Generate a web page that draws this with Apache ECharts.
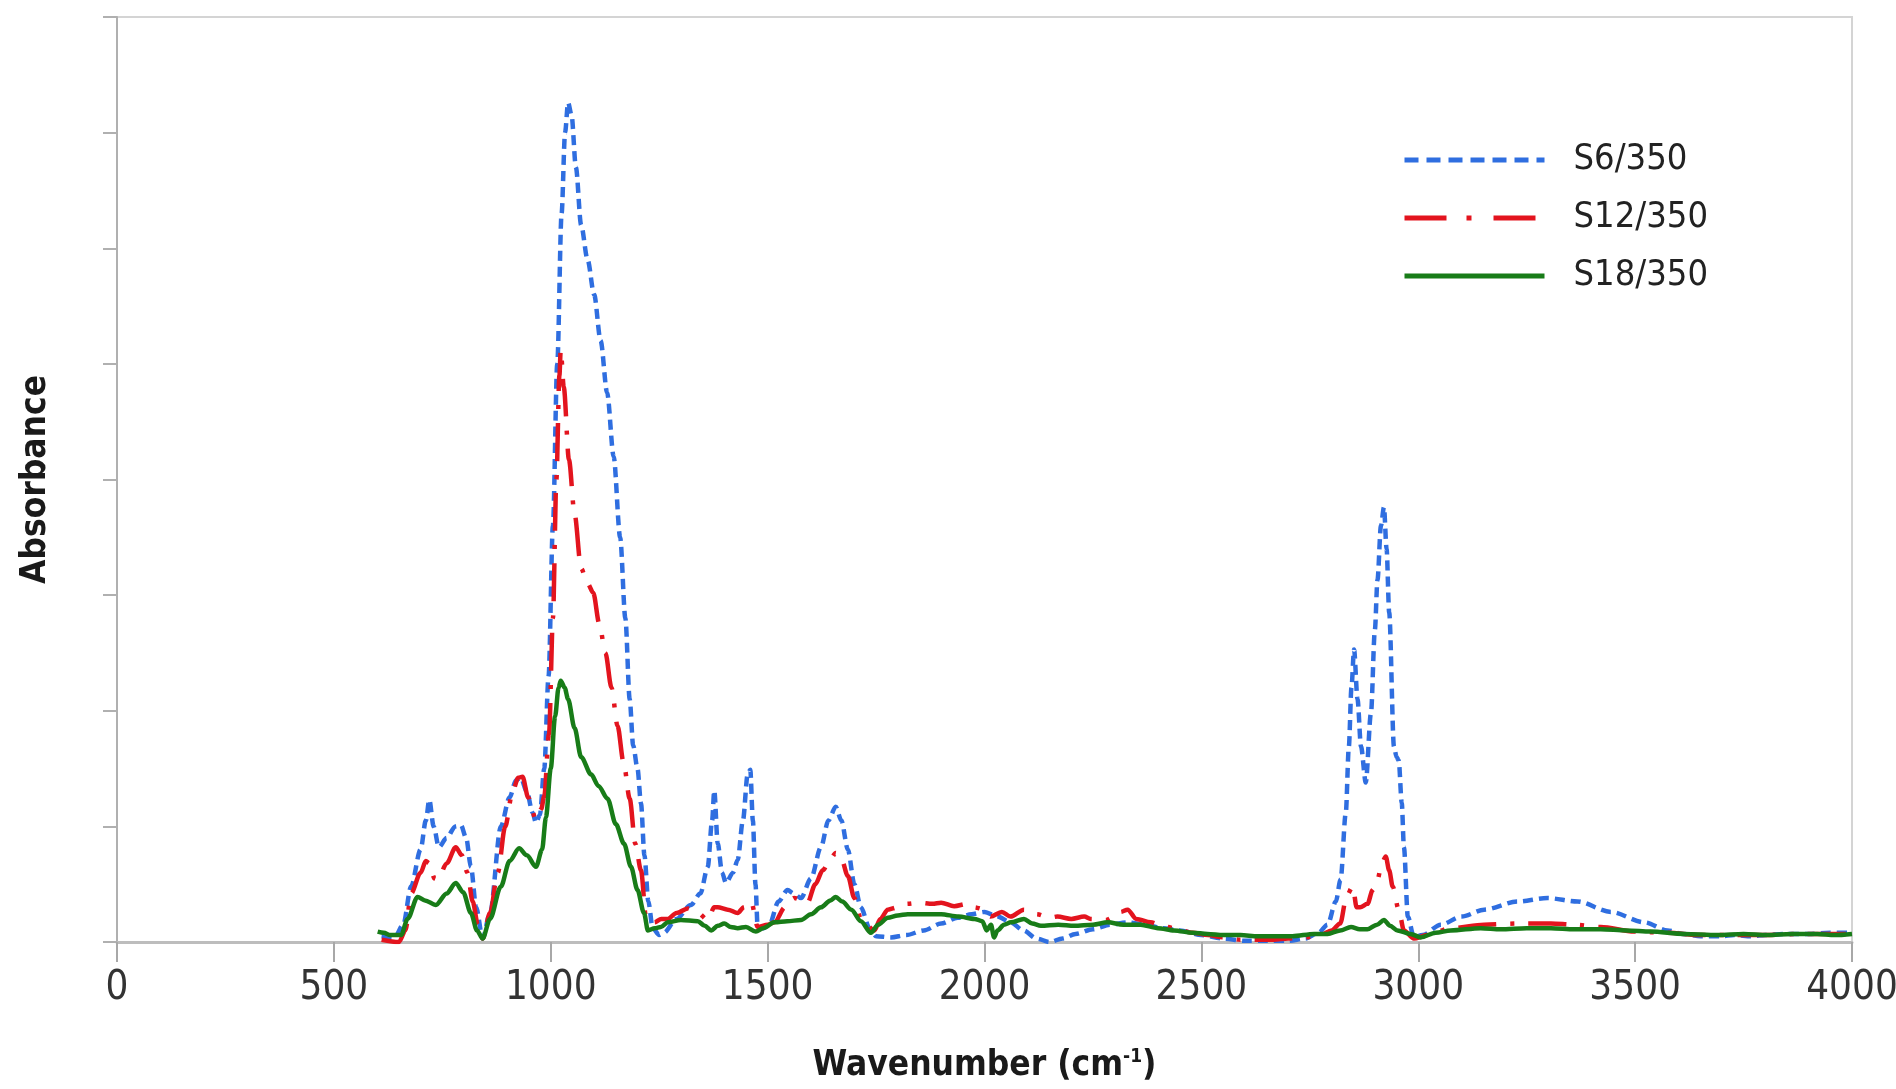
<!DOCTYPE html>
<html>
<head>
<meta charset="utf-8">
<title>FTIR spectra</title>
<script src="https://cdn.jsdelivr.net/npm/echarts@6/dist/echarts.min.js"></script>
<style>
  html, body { margin: 0; padding: 0; background: #ffffff; }
  #chart { width: 1896px; height: 1089px; }
</style>
</head>
<body>
<div id="chart"></div>
<script>
// FTIR absorbance spectra of three samples (arbitrary absorbance units)

const seriesNames = ['S6/350', 'S12/350', 'S18/350'];

// S6/350
const s6Wn = [610, 640, 660, 678, 700, 712, 720, 730, 742, 760, 780, 793, 805, 816, 828, 843, 860, 885, 905, 920, 931, 945, 958, 966, 975, 985, 995, 1005, 1015, 1025, 1033, 1040, 1048, 1058, 1070, 1085, 1100, 1115, 1130, 1145, 1160, 1172, 1182, 1190, 1200, 1208, 1216, 1225, 1235, 1250, 1261, 1290, 1323, 1345, 1362, 1372, 1377, 1385, 1395, 1404, 1420, 1431, 1443, 1454, 1460, 1466, 1472, 1477, 1490, 1504, 1525, 1546, 1560, 1577, 1600, 1623, 1640, 1657, 1670, 1685, 1700, 1715, 1735, 1750, 1784, 1820, 1860, 1900, 1938, 1970, 2000, 2030, 2060, 2090, 2120, 2150, 2180, 2210, 2250, 2290, 2330, 2370, 2410, 2450, 2500, 2550, 2600, 2650, 2700, 2740, 2770, 2791, 2810, 2821, 2833, 2840, 2846, 2852, 2860, 2868, 2879, 2891, 2900, 2906, 2914, 2921, 2927, 2933, 2944, 2950, 2955, 2962, 2967, 2976, 2990, 3010, 3052, 3100, 3152, 3229, 3298, 3367, 3444, 3521, 3575, 3610, 3651, 3700, 3728, 3770, 3800, 3843, 3900, 3950, 4000];
const s6Abs = [0.05, 0.04, 0.15, 0.48, 0.8, 1.05, 1.23, 1.0, 0.82, 0.9, 1.0, 1.01, 0.9, 0.65, 0.3, 0.03, 0.25, 1.0, 1.25, 1.4, 1.42, 1.3, 1.12, 1.03, 1.1, 1.5, 2.3, 3.6, 5.0, 6.3, 7.0, 7.26, 7.15, 6.7, 6.2, 5.9, 5.6, 5.2, 4.75, 4.2, 3.5, 2.8, 2.1, 1.7, 1.5, 1.2, 0.75, 0.35, 0.12, 0.06, 0.08, 0.2, 0.32, 0.42, 0.65, 1.05, 1.31, 0.85, 0.6, 0.51, 0.6, 0.71, 1.05, 1.45, 1.49, 1.05, 0.5, 0.13, 0.12, 0.15, 0.35, 0.45, 0.42, 0.38, 0.55, 0.82, 1.05, 1.17, 1.05, 0.8, 0.5, 0.3, 0.12, 0.05, 0.04, 0.06, 0.1, 0.16, 0.21, 0.24, 0.26, 0.22, 0.17, 0.1, 0.03, 0.0, 0.03, 0.07, 0.11, 0.15, 0.17, 0.15, 0.12, 0.1, 0.06, 0.03, 0.01, 0.01, 0.01, 0.03, 0.08, 0.15, 0.35, 0.54, 1.12, 1.69, 2.2, 2.53, 2.1, 1.69, 1.38, 1.98, 2.7, 3.13, 3.6, 3.76, 3.4, 2.85, 1.69, 1.6, 1.57, 1.2, 0.82, 0.22, 0.04, 0.06, 0.15, 0.22, 0.28, 0.35, 0.38, 0.35, 0.26, 0.17, 0.1, 0.07, 0.05, 0.05, 0.06, 0.05, 0.06, 0.07, 0.07, 0.08, 0.08];

// S12/350
const s12Wn = [610, 650, 665, 678, 700, 712, 720, 732, 740, 760, 781, 795, 808, 820, 832, 843, 860, 878, 895, 912, 925, 935, 948, 966, 978, 985, 996, 1005, 1013, 1020, 1023, 1030, 1042, 1055, 1070, 1085, 1098, 1112, 1126, 1140, 1154, 1168, 1182, 1195, 1208, 1220, 1239, 1255, 1270, 1290, 1316, 1340, 1362, 1377, 1385, 1408, 1431, 1445, 1462, 1477, 1500, 1516, 1540, 1561, 1592, 1610, 1627, 1645, 1657, 1670, 1685, 1700, 1715, 1746, 1760, 1777, 1800, 1823, 1850, 1880, 1900, 1930, 1960, 1977, 2000, 2014, 2040, 2060, 2091, 2120, 2150, 2168, 2200, 2230, 2245, 2280, 2300, 2314, 2330, 2350, 2383, 2410, 2437, 2480, 2515, 2550, 2590, 2630, 2667, 2700, 2740, 2775, 2800, 2820, 2835, 2849, 2858, 2866, 2883, 2895, 2906, 2916, 2925, 2933, 2941, 2955, 2967, 2990, 3020, 3075, 3152, 3230, 3306, 3360, 3421, 3498, 3575, 3650, 3728, 3800, 3880, 3950, 4000];
const s12Abs = [0.02, 0.0, 0.1, 0.42, 0.6, 0.7, 0.68, 0.55, 0.54, 0.68, 0.82, 0.75, 0.6, 0.35, 0.15, 0.03, 0.25, 0.6, 1.0, 1.3, 1.42, 1.43, 1.25, 1.06, 1.15, 1.26, 1.8, 2.8, 4.0, 4.9, 5.12, 4.8, 4.17, 3.7, 3.23, 3.1, 3.02, 2.75, 2.5, 2.2, 1.87, 1.55, 1.24, 0.85, 0.62, 0.2, 0.17, 0.2, 0.2, 0.25, 0.29, 0.25, 0.19, 0.3, 0.3, 0.28, 0.25, 0.3, 0.35, 0.13, 0.15, 0.17, 0.3, 0.38, 0.34, 0.5, 0.62, 0.72, 0.77, 0.72, 0.57, 0.38, 0.2, 0.1, 0.2, 0.28, 0.3, 0.33, 0.34, 0.33, 0.34, 0.31, 0.33, 0.3, 0.28, 0.22, 0.26, 0.22, 0.28, 0.24, 0.21, 0.22, 0.2, 0.22, 0.2, 0.19, 0.22, 0.26, 0.28, 0.2, 0.17, 0.14, 0.12, 0.08, 0.06, 0.04, 0.02, 0.02, 0.02, 0.03, 0.04, 0.06, 0.1, 0.16, 0.4, 0.48, 0.3, 0.3, 0.33, 0.45, 0.54, 0.68, 0.74, 0.62, 0.48, 0.28, 0.1, 0.03, 0.06, 0.12, 0.15, 0.16, 0.16, 0.15, 0.13, 0.09, 0.08, 0.06, 0.06, 0.06, 0.07, 0.07, 0.07];

// S18/350
const s18Wn = [601, 615, 630, 655, 670, 693, 710, 735, 760, 781, 798, 816, 830, 843, 860, 885, 905, 927, 945, 966, 980, 989, 1000, 1010, 1018, 1023, 1032, 1040, 1055, 1070, 1093, 1110, 1131, 1150, 1169, 1185, 1200, 1215, 1224, 1240, 1254, 1270, 1300, 1339, 1355, 1370, 1385, 1400, 1415, 1431, 1450, 1473, 1490, 1516, 1545, 1577, 1600, 1623, 1645, 1657, 1672, 1693, 1715, 1738, 1755, 1777, 1800, 1823, 1860, 1900, 1940, 1977, 1995, 2005, 2015, 2022, 2030, 2045, 2061, 2091, 2110, 2130, 2170, 2207, 2250, 2284, 2320, 2360, 2400, 2437, 2480, 2514, 2550, 2590, 2630, 2667, 2710, 2760, 2791, 2820, 2845, 2865, 2883, 2905, 2921, 2935, 2952, 2982, 3006, 3040, 3075, 3144, 3190, 3250, 3306, 3360, 3421, 3480, 3536, 3613, 3690, 3750, 3805, 3860, 3920, 3960, 4000];
const s18Abs = [0.09, 0.08, 0.06, 0.06, 0.2, 0.39, 0.36, 0.32, 0.42, 0.51, 0.43, 0.25, 0.1, 0.03, 0.2, 0.48, 0.7, 0.81, 0.75, 0.65, 0.8, 1.08, 1.5, 1.95, 2.2, 2.26, 2.2, 2.1, 1.85, 1.6, 1.45, 1.35, 1.24, 1.02, 0.85, 0.65, 0.45, 0.25, 0.1, 0.12, 0.13, 0.17, 0.19, 0.18, 0.14, 0.1, 0.14, 0.16, 0.13, 0.12, 0.13, 0.09, 0.12, 0.17, 0.18, 0.19, 0.24, 0.3, 0.36, 0.39, 0.35, 0.28, 0.18, 0.08, 0.15, 0.21, 0.23, 0.24, 0.24, 0.24, 0.22, 0.2, 0.18, 0.1, 0.15, 0.04, 0.1, 0.15, 0.17, 0.2, 0.16, 0.14, 0.15, 0.14, 0.15, 0.17, 0.15, 0.15, 0.12, 0.1, 0.08, 0.07, 0.06, 0.06, 0.05, 0.05, 0.05, 0.07, 0.07, 0.1, 0.13, 0.11, 0.11, 0.15, 0.19, 0.14, 0.1, 0.07, 0.04, 0.08, 0.1, 0.12, 0.11, 0.12, 0.12, 0.11, 0.11, 0.1, 0.09, 0.07, 0.06, 0.07, 0.06, 0.07, 0.07, 0.06, 0.07];

const zip = (xs, ys) => xs.map((x, i) => [x, ys[i]]);

const narrowFont = "'Liberation Sans Narrow', 'Arial Narrow', 'DejaVu Sans Condensed', 'Liberation Sans', Arial, sans-serif";
const axisGray = '#bdbdbd';

const colors = { s6: '#2f6ee0', s12: '#e3141e', s18: '#187c18' };

const chart = echarts.init(document.getElementById('chart'), null, { renderer: 'canvas' });

chart.setOption({
  animation: false,
  backgroundColor: '#ffffff',
  grid: {
    left: 117, right: 44, top: 17, bottom: 147,
    containLabel: false,
    outerBoundsMode: 'none',
    show: true,
    borderColor: '#d4d4d4',
    borderWidth: 2
  },
  legend: {
    orient: 'vertical',
    left: 1397,
    top: 130,
    itemWidth: 140,
    itemHeight: 20,
    itemGap: 8,
    selectedMode: false,
    itemStyle: { opacity: 0 },
    data: [
      { name: seriesNames[0], lineStyle: { width: 5, type: [14, 8] } },
      { name: seriesNames[1], lineStyle: { width: 5, type: [42, 20, 5, 22] } },
      { name: seriesNames[2], lineStyle: { width: 5 } }
    ],
    textStyle: {
      fontFamily: narrowFont,
      fontSize: 36,
      lineHeight: 50,
      color: '#222222',
      padding: [0, 0, 0, 24]
    }
  },
  xAxis: {
    type: 'value',
    min: 0,
    max: 4000,
    interval: 500,
    name: 'Wavenumber (cm{sup|-1})',
    nameLocation: 'middle',
    nameGap: 106,
    nameTextStyle: {
      fontFamily: narrowFont,
      fontSize: 35,
      fontWeight: 'bold',
      color: '#1a1a1a',
      rich: {
        sup: {
          fontFamily: narrowFont,
          fontSize: 19,
          fontWeight: 'bold',
          color: '#1a1a1a',
          verticalAlign: 'top',
          lineHeight: 19
        }
      }
    },
    axisLine: { show: true, onZero: false, lineStyle: { color: axisGray, width: 3 } },
    axisTick: { show: true, length: 20, lineStyle: { color: '#a8a8a8', width: 2 } },
    axisLabel: {
      margin: 27,
      fontFamily: narrowFont,
      fontSize: 40,
      color: '#333333',
      formatter: (v) => String(v)
    },
    splitLine: { show: false }
  },
  yAxis: {
    type: 'value',
    min: 0,
    max: 8,
    interval: 1,
    name: 'Absorbance',
    nameLocation: 'middle',
    nameRotate: 90,
    nameGap: 64,
    nameTextStyle: {
      fontFamily: narrowFont,
      fontSize: 35,
      fontWeight: 'bold',
      color: '#1a1a1a'
    },
    axisLine: { show: true, lineStyle: { color: '#b0b0b0', width: 2 } },
    axisTick: { show: true, length: 14, lineStyle: { color: '#b0b0b0', width: 2 } },
    axisLabel: { show: false },
    splitLine: { show: false }
  },
  series: [
    {
      name: seriesNames[0],
      type: 'line',
      data: zip(s6Wn, s6Abs),
      symbol: 'none',
      smooth: 0.3,
      smoothMonotone: 'x',
      z: 3,
      itemStyle: { color: colors.s6 },
      lineStyle: { color: colors.s6, width: 4.5, type: [10, 6] }
    },
    {
      name: seriesNames[1],
      type: 'line',
      data: zip(s12Wn, s12Abs),
      symbol: 'none',
      smooth: 0.3,
      smoothMonotone: 'x',
      z: 4,
      itemStyle: { color: colors.s12 },
      lineStyle: { color: colors.s12, width: 4.5, type: [38, 14, 4, 14] }
    },
    {
      name: seriesNames[2],
      type: 'line',
      data: zip(s18Wn, s18Abs),
      symbol: 'none',
      smooth: 0.3,
      smoothMonotone: 'x',
      z: 5,
      itemStyle: { color: colors.s18 },
      lineStyle: { color: colors.s18, width: 4.5, type: 'solid' }
    }
  ]
});
</script>
</body>
</html>
